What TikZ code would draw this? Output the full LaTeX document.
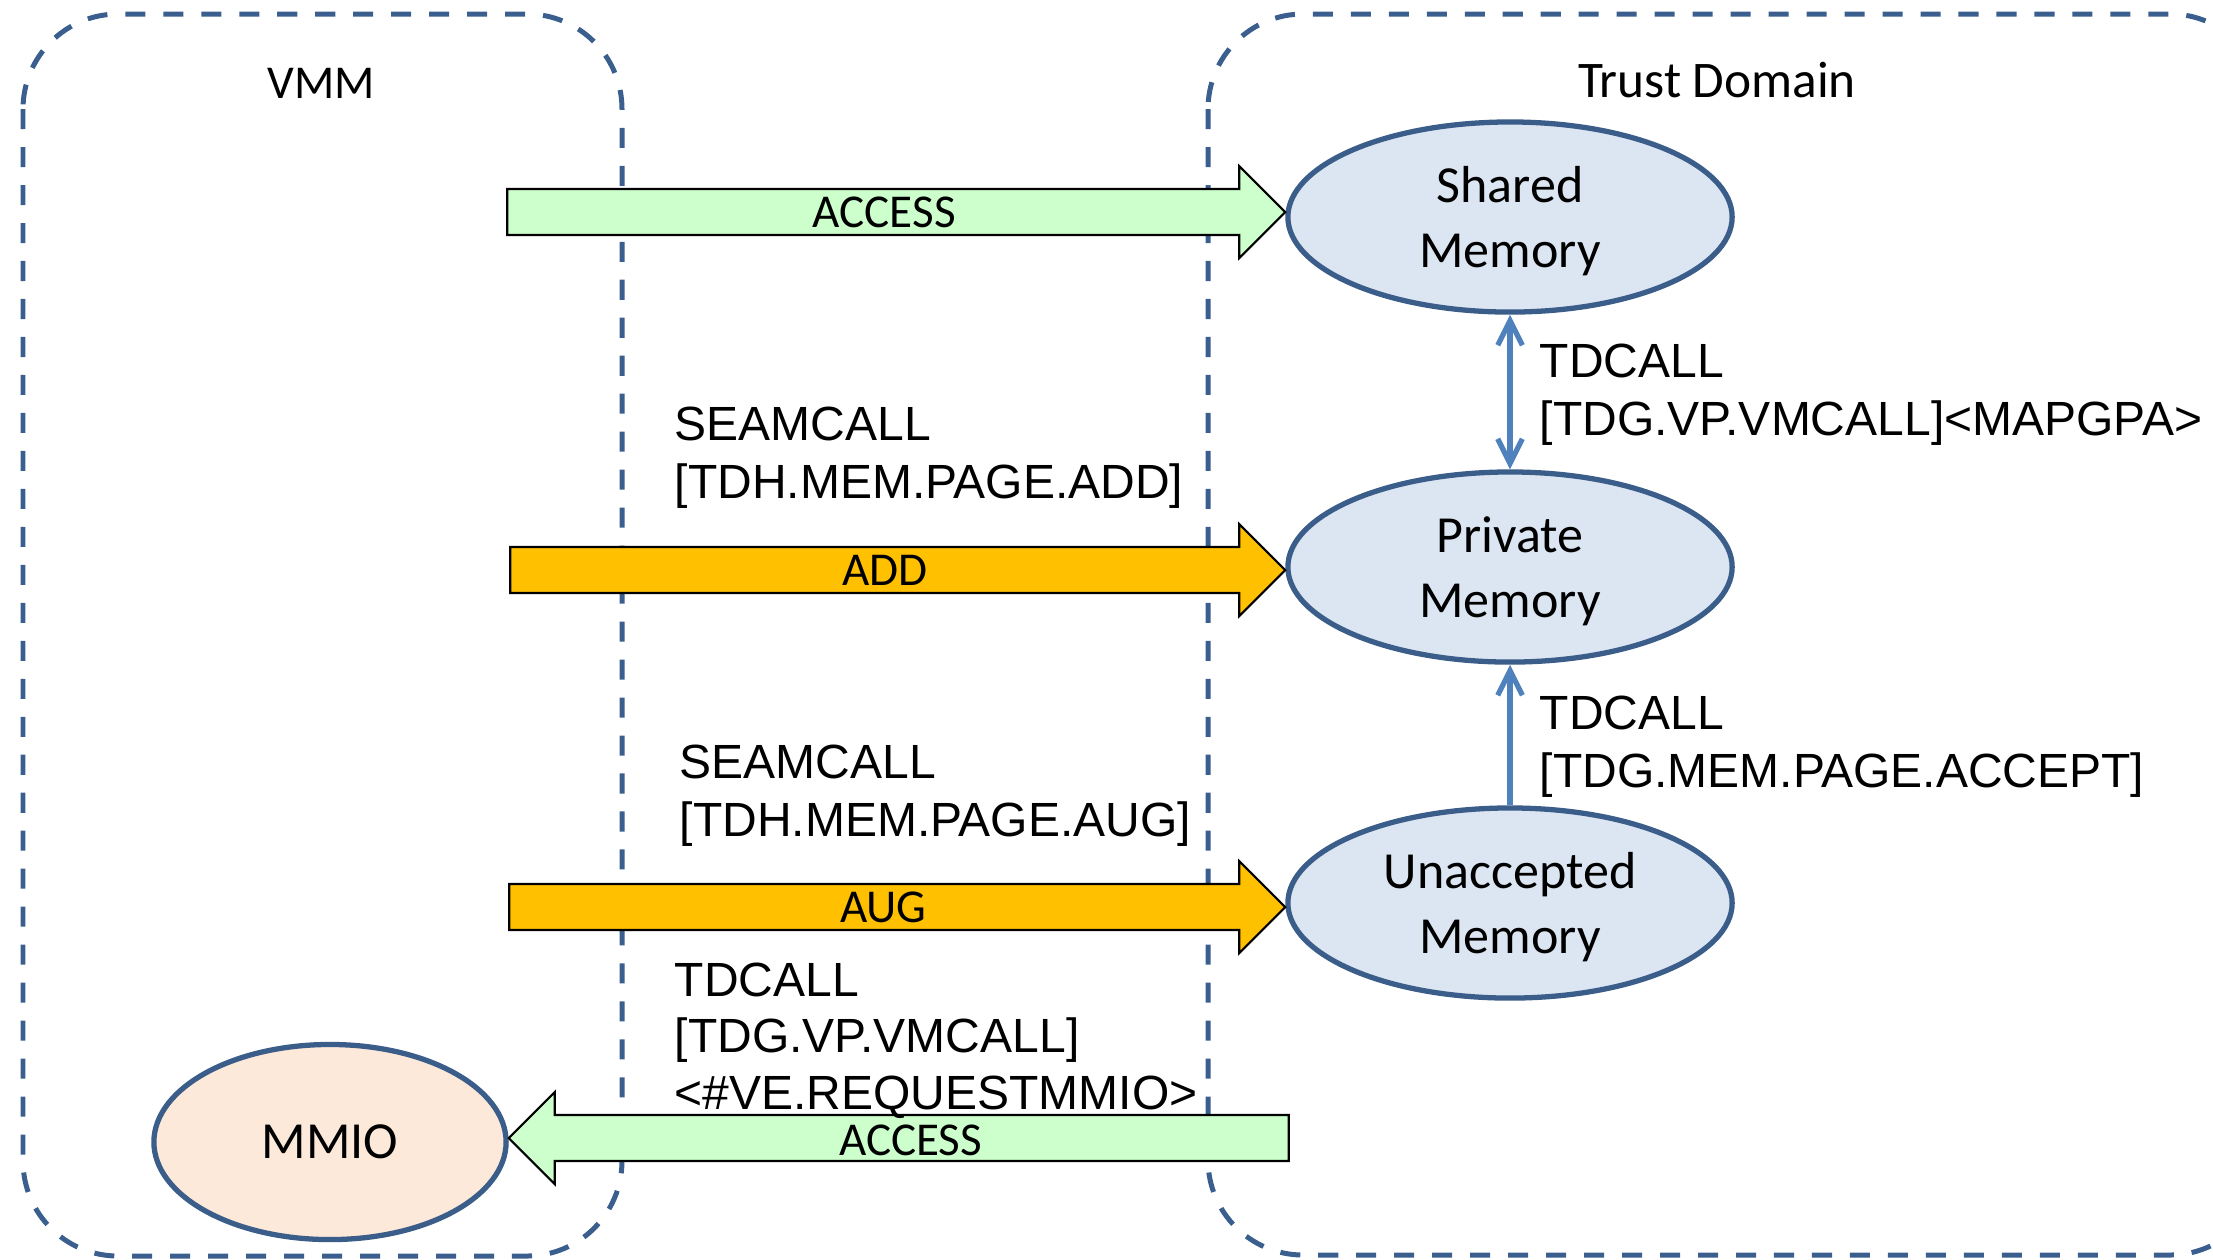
\documentclass[tikz,border=0pt]{standalone}
\usepackage{fontspec}
\setmainfont{Carlito}
\newfontfamily\arialf{Liberation Sans}
\usetikzlibrary{shapes.geometric,arrows.meta,calc}
\definecolor{boxblue}{HTML}{3A5F8E}
\definecolor{ellfill}{HTML}{DCE6F2}
\definecolor{ellline}{HTML}{3B5D8A}
\definecolor{connblue}{HTML}{4F81BD}
\definecolor{accgreen}{HTML}{CCFFCC}
\definecolor{addorange}{HTML}{FFC000}
\definecolor{mmiofill}{HTML}{FDE9D9}
\newcommand\blockright[4]{% #1 target node, #2 length, #3 style, #4 vertical offset
  \draw[#3] ($(#1.west)+(-#2,#4-23)$) -- ($(#1.west)+(-46,#4-23)$) -- ($(#1.west)+(-46,#4-46)$) -- ($(#1.west)+(0,#4)$)
    -- ($(#1.west)+(-46,#4+46)$) -- ($(#1.west)+(-46,#4+23)$) -- ($(#1.west)+(-#2,#4+23)$) -- cycle;}
\newcommand\blockleft[4]{% #1 target node, #2 length, #3 style, #4 vertical offset
  \draw[#3] ($(#1.east)+(#2,#4-23)$) -- ($(#1.east)+(46,#4-23)$) -- ($(#1.east)+(46,#4-46)$) -- ($(#1.east)+(0,#4)$)
    -- ($(#1.east)+(46,#4+46)$) -- ($(#1.east)+(46,#4+23)$) -- ($(#1.east)+(#2,#4+23)$) -- cycle;}
\begin{document}
\begin{tikzpicture}[x=0.01cm,y=-0.01cm,
  domainbox/.style={draw=boxblue, line width=1.42pt, dash pattern=on 5.7pt off 5.1pt, rounded corners=0.95cm},
  memnode/.style={ellipse, draw=ellline, line width=1.5pt, fill=ellfill, minimum width=4.44cm, minimum height=1.9cm, inner sep=0pt, align=center, text depth=0pt, font=\fontsize{14.8}{18.5}\selectfont},
  blockarrow/.style={draw=black, line width=0.6pt, line join=miter},
  greenarrow/.style={blockarrow, fill=accgreen},
  orangearrow/.style={blockarrow, fill=addorange},
  arrowlabel/.style={inner sep=0pt, font=\fontsize{13.4}{16}\selectfont},
  calllabel/.style={anchor=north west, inner sep=0pt, align=left, font=\arialf\fontsize{13.65}{16.5}\selectfont},
  conn/.style={draw=connblue, line width=1.5pt},
  barb/.tip={Straight Barb[length=7pt,width=7pt]},
  titlelabel/.style={inner sep=0pt}
]
\useasboundingbox (0,0) rectangle (2213,1259);
\begin{scope}
  \clip (0,0) rectangle (2213,1259);
  \draw[domainbox] (23,14) rectangle (622,1256);
  \draw[domainbox] (1208,14) rectangle (2265,1255);
\end{scope}

\node[titlelabel, font=\fontsize{13.4}{16}\selectfont] (vmm) at (321,83) {VMM};
\node[titlelabel, font=\fontsize{14.6}{18}\selectfont] (td) at (1717,80) {Trust Domain};

\node[memnode] (shared) at (1510,217) {Shared\\Memory};
\node[memnode] (private) at (1510,567) {Private\\Memory};
\node[memnode] (unacc) at (1510,903) {Unaccepted\\Memory};
\node[memnode, fill=mmiofill, minimum width=3.52cm, minimum height=1.95cm] (mmio) at (330,1142) {MMIO};

\blockright{shared}{778}{greenarrow}{-5}
\blockright{private}{775}{orangearrow}{3}
\blockright{unacc}{776}{orangearrow}{4}
\blockleft{mmio}{780}{greenarrow}{-4}

\node[arrowlabel] (lacc1) at ($(shared.west)+(-401,-5)$) {ACCESS};
\node[arrowlabel] (ladd) at ($(private.west)+(-400,3)$) {ADD};
\node[arrowlabel] (laug) at ($(unacc.west)+(-402,4)$) {AUG};
\node[arrowlabel] (lacc2) at ($(mmio.east)+(402,-2)$) {ACCESS};

\draw[conn, barb-barb] (shared) -- (private);
\draw[conn, -barb] (unacc) -- (private);

\node[calllabel] (l1) at (1539,343) {TDCALL\\{}[TDG.VP.VMCALL]<MAPGPA>};
\node[calllabel] (l2) at (674,406) {SEAMCALL\\{}[TDH.MEM.PAGE.ADD]};
\node[calllabel] (l3) at (679,744) {SEAMCALL\\{}[TDH.MEM.PAGE.AUG]};
\node[calllabel] (l4) at (1539,695) {TDCALL\\{}[TDG.MEM.PAGE.ACCEPT]};
\node[calllabel, font=\arialf\fontsize{13.65}{16.1}\selectfont] (l5) at (674,962) {TDCALL\\{}[TDG.VP.VMCALL]\\<\#VE.REQUESTMMIO>};
\end{tikzpicture}
\end{document}
